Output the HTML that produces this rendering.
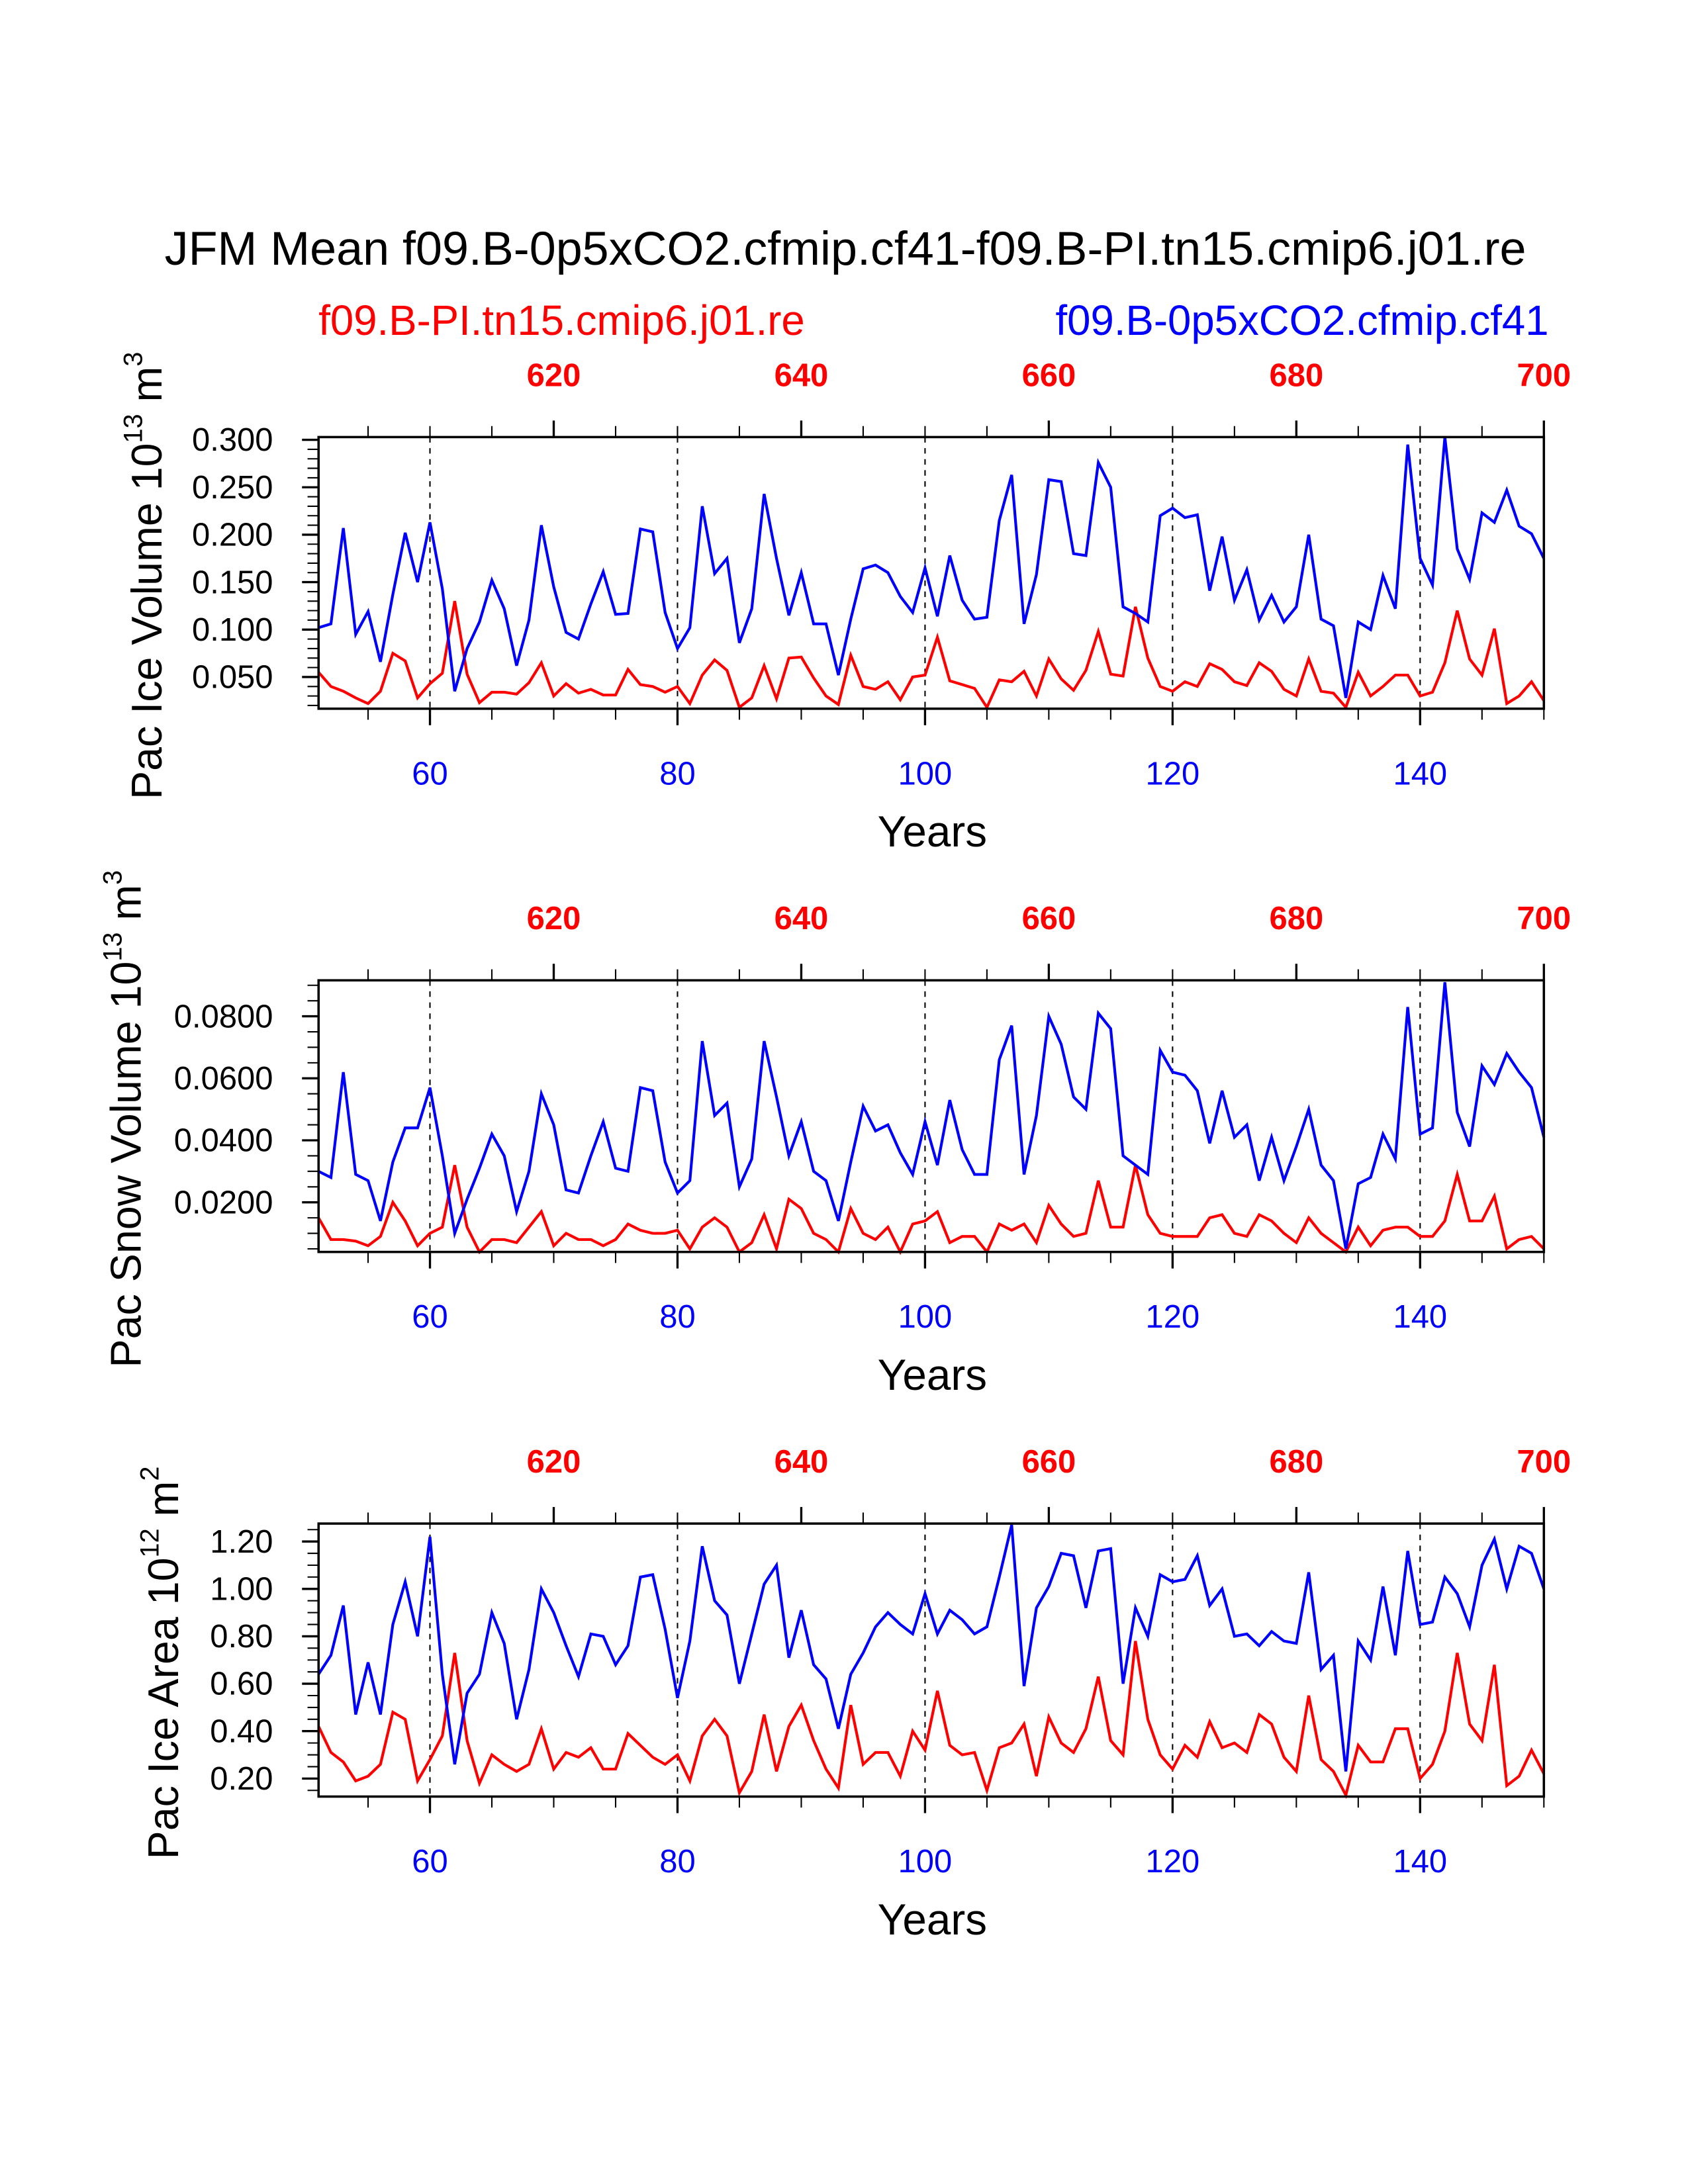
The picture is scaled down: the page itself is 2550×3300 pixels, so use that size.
<!DOCTYPE html>
<html><head><meta charset="utf-8"><style>html,body{margin:0;padding:0;background:#fff}svg{display:block}</style></head>
<body>
<svg id="fig" xmlns="http://www.w3.org/2000/svg" width="2550" height="3300" viewBox="0 0 1224 1584" font-family="'Liberation Sans', Arial, sans-serif">
<rect width="1224" height="1584" fill="#fff"/>
<text x="613" y="192" font-size="34.5" text-anchor="middle">JFM Mean f09.B-0p5xCO2.cfmip.cf41-f09.B-PI.tn15.cmip6.j01.re</text>
<text x="231" y="243" font-size="30.5" fill="#f00">f09.B-PI.tn15.cmip6.j01.re</text>
<text x="1123" y="243" font-size="30.5" fill="#00f" text-anchor="end">f09.B-0p5xCO2.cfmip.cf41</text>
<g id="plots"></g>
</svg>
<script>
const years = Array.from({length:100},(_,i)=>51+i);
const iceVolBlue=[0.102,0.106,0.207,0.095,0.119,0.066,0.137,0.202,0.150,0.213,0.143,0.035,0.080,0.108,0.152,0.122,0.062,0.110,0.210,0.145,0.097,0.090,0.127,0.161,0.116,0.117,0.206,0.203,0.118,0.080,0.102,0.230,0.159,0.175,0.086,0.122,0.243,0.175,0.115,0.160,0.106,0.106,0.052,0.111,0.164,0.168,0.160,0.135,0.118,0.165,0.114,0.178,0.131,0.111,0.113,0.215,0.263,0.106,0.158,0.258,0.256,0.180,0.178,0.276,0.250,0.124,0.117,0.108,0.220,0.228,0.218,0.221,0.141,0.198,0.131,0.163,0.110,0.136,0.108,0.124,0.200,0.111,0.104,0.028,0.108,0.100,0.157,0.122,0.295,0.175,0.147,0.303,0.185,0.153,0.223,0.213,0.247,0.209,0.201,0.175];
const iceVolRed=[0.055,0.040,0.035,0.028,0.022,0.035,0.075,0.067,0.028,0.043,0.054,0.130,0.053,0.023,0.034,0.034,0.032,0.044,0.065,0.030,0.043,0.033,0.037,0.031,0.031,0.058,0.042,0.040,0.034,0.040,0.022,0.052,0.068,0.057,0.018,0.028,0.062,0.027,0.070,0.071,0.049,0.030,0.021,0.073,0.040,0.037,0.045,0.026,0.050,0.052,0.092,0.046,0.042,0.038,0.018,0.047,0.045,0.056,0.030,0.069,0.048,0.036,0.057,0.098,0.053,0.051,0.124,0.070,0.040,0.035,0.045,0.040,0.064,0.058,0.045,0.041,0.065,0.056,0.037,0.030,0.069,0.035,0.033,0.018,0.055,0.030,0.040,0.052,0.052,0.030,0.034,0.065,0.120,0.069,0.052,0.101,0.022,0.030,0.045,0.025];
const snowBlue=[0.030,0.028,0.062,0.029,0.027,0.014,0.033,0.044,0.044,0.057,0.035,0.010,0.021,0.031,0.042,0.035,0.017,0.030,0.055,0.045,0.024,0.023,0.035,0.046,0.031,0.030,0.057,0.056,0.033,0.023,0.027,0.072,0.048,0.052,0.025,0.034,0.072,0.054,0.035,0.046,0.030,0.027,0.014,0.033,0.051,0.043,0.045,0.036,0.029,0.046,0.032,0.053,0.037,0.029,0.029,0.066,0.077,0.029,0.048,0.080,0.071,0.054,0.050,0.081,0.076,0.035,0.032,0.029,0.069,0.062,0.061,0.056,0.039,0.056,0.041,0.045,0.027,0.041,0.027,0.038,0.050,0.032,0.027,0.005,0.026,0.028,0.042,0.034,0.083,0.042,0.044,0.091,0.049,0.038,0.064,0.058,0.068,0.062,0.057,0.041];
const snowRed=[0.015,0.008,0.008,0.0075,0.006,0.009,0.020,0.014,0.006,0.010,0.012,0.032,0.012,0.004,0.008,0.008,0.007,0.012,0.017,0.006,0.010,0.008,0.008,0.006,0.008,0.013,0.011,0.010,0.010,0.011,0.005,0.012,0.015,0.012,0.004,0.007,0.016,0.005,0.021,0.018,0.010,0.008,0.004,0.018,0.010,0.008,0.012,0.004,0.013,0.014,0.017,0.007,0.009,0.009,0.004,0.013,0.011,0.013,0.007,0.019,0.013,0.009,0.010,0.027,0.012,0.012,0.032,0.016,0.010,0.009,0.009,0.009,0.015,0.016,0.010,0.009,0.016,0.014,0.010,0.007,0.015,0.010,0.007,0.004,0.012,0.006,0.011,0.012,0.012,0.009,0.009,0.014,0.029,0.014,0.014,0.022,0.005,0.008,0.009,0.005];
const areaBlue=[0.64,0.72,0.93,0.47,0.69,0.47,0.85,1.03,0.80,1.22,0.64,0.26,0.56,0.64,0.90,0.77,0.45,0.66,1.00,0.90,0.76,0.63,0.81,0.80,0.68,0.76,1.05,1.06,0.83,0.54,0.78,1.18,0.95,0.89,0.60,0.81,1.02,1.10,0.71,0.91,0.68,0.62,0.41,0.64,0.73,0.84,0.90,0.85,0.81,0.98,0.81,0.91,0.87,0.81,0.84,1.05,1.27,0.59,0.92,1.01,1.15,1.14,0.92,1.16,1.17,0.60,0.92,0.80,1.06,1.03,1.04,1.14,0.93,1.00,0.80,0.81,0.76,0.82,0.78,0.77,1.07,0.66,0.72,0.23,0.78,0.70,1.01,0.72,1.16,0.85,0.86,1.05,0.98,0.84,1.10,1.21,1.00,1.18,1.15,1.00];
const areaRed=[0.42,0.31,0.27,0.19,0.21,0.26,0.48,0.45,0.19,0.28,0.38,0.73,0.36,0.18,0.30,0.26,0.23,0.26,0.41,0.24,0.31,0.29,0.33,0.24,0.24,0.39,0.34,0.29,0.26,0.30,0.19,0.38,0.45,0.38,0.14,0.23,0.47,0.23,0.42,0.51,0.36,0.24,0.16,0.51,0.26,0.31,0.31,0.21,0.40,0.32,0.57,0.34,0.30,0.31,0.15,0.33,0.35,0.43,0.21,0.46,0.35,0.31,0.41,0.63,0.36,0.30,0.78,0.45,0.30,0.24,0.34,0.29,0.44,0.33,0.35,0.31,0.47,0.43,0.29,0.23,0.55,0.28,0.23,0.13,0.34,0.27,0.27,0.41,0.41,0.20,0.26,0.40,0.73,0.43,0.36,0.68,0.17,0.21,0.32,0.22];
const bottomTicks=[60,80,100,120,140];
const topTickLabels=[620,640,660,680,700];
const iceVolTicks=["0.050","0.100","0.150","0.200","0.250","0.300"];
const snowTicks=["0.0200","0.0400","0.0600","0.0800"];
const areaTicks=["0.20","0.40","0.60","0.80","1.00","1.20"];

const NS="http://www.w3.org/2000/svg";
const root=document.getElementById('plots');
function mk(tag,attrs,parent,text){const e=document.createElementNS(NS,tag);for(const k in attrs)e.setAttribute(k,attrs[k]);if(text!==undefined)e.textContent=text;(parent||root).appendChild(e);return e;}
const X0=231,X1=1119.5,YR0=51,YR1=150;
function xs(y){return X0+(y-YR0)*(X1-X0)/(YR1-YR0);}

const panels=[
 {name:'ice-volume',top:317,bot:514,ymin:0.0166,ymax:0.3029,ticks:iceVolTicks,minor:0.01,blue:iceVolBlue,red:iceVolRed,title:'Pac Ice Volume 10',sup:'13',unit:' m',usup:'3',tx:117},
 {name:'snow-volume',top:711,bot:908,ymin:0.004,ymax:0.0916,ticks:snowTicks,minor:0.005,blue:snowBlue,red:snowRed,title:'Pac Snow Volume 10',sup:'13',unit:' m',usup:'3',tx:102},
 {name:'ice-area',top:1105,bot:1303,ymin:0.124,ymax:1.2756,ticks:areaTicks,minor:0.05,blue:areaBlue,red:areaRed,title:'Pac Ice Area 10',sup:'12',unit:' m',usup:'2',tx:129}
];
panels.forEach(p=>{
 const g=mk('g',{});
 
 
 const ys=v=>p.bot-(v-p.ymin)*(p.bot-p.top)/(p.ymax-p.ymin);
 bottomTicks.forEach(t=>{const l=mk('line',{x1:xs(t),x2:xs(t),y1:p.top,y2:p.bot,stroke:'#000','stroke-width':1,'stroke-dasharray':'4,4'},g);
  
  });
 [['red',p.red,'#f00'],['blue',p.blue,'#00f']].forEach(([nm,arr,c])=>{
  const pts=arr.map((v,i)=>xs(years[i]).toFixed(2)+','+ys(v).toFixed(2)).join(' ');
  const pl=mk('polyline',{points:pts,fill:'none',stroke:c,'stroke-width':2,'stroke-linejoin':'miter'},g);
  
  
 });
 const fr=mk('rect',{x:X0,y:p.top,width:X1-X0,height:p.bot-p.top,fill:'none',stroke:'#000','stroke-width':1.7},g);
 
 
 const majors=p.ticks.map(Number);
 for(let v=Math.ceil(p.ymin/p.minor)*p.minor;v<=p.ymax+1e-9;v+=p.minor){
  const isMaj=majors.some(m=>Math.abs(m-v)<1e-7);
  if(!isMaj) mk('line',{x1:X0-8,x2:X0,y1:ys(v),y2:ys(v),stroke:'#000','stroke-width':1},g);
 }
 p.ticks.forEach(t=>{const v=Number(t);
  mk('line',{x1:X0-12,x2:X0,y1:ys(v),y2:ys(v),stroke:'#000','stroke-width':1.6},g);
  const tl=mk('text',{x:X0-33,y:ys(v)+8,'font-size':23.5,'text-anchor':'end'},g,t);
  
  
 });
 for(let y=55;y<=150;y+=5){
  const maj=(y%20===0);
  mk('line',{x1:xs(y),x2:xs(y),y1:p.bot,y2:p.bot+(maj?12:8),stroke:'#000','stroke-width':maj?1.6:1},g);
  const majTop=((y+550)%20===0);
  mk('line',{x1:xs(y),x2:xs(y),y1:p.top,y2:p.top-(majTop?12:8),stroke:'#000','stroke-width':majTop?1.6:1},g);
 }
 bottomTicks.forEach(t=>{const tl=mk('text',{x:xs(t),y:p.bot+55,'font-size':23.5,'text-anchor':'middle',fill:'#00f'},g,String(t));
  
  });
 topTickLabels.forEach(t=>{const tl=mk('text',{x:xs(t-550),y:p.top-37,'font-size':23.5,'font-weight':'bold','text-anchor':'middle',fill:'#f00'},g,String(t));
  
  });
 const xt=mk('text',{x:676,y:p.bot+100,'font-size':31.5,'text-anchor':'middle'},g,'Years');
 
 
 const cy=(p.top+p.bot)/2 + 2;
 const yt=mk('text',{x:0,y:0,'font-size':31,'text-anchor':'middle',transform:`translate(${p.tx},${cy}) rotate(-90)`},g);
 
 
 mk('tspan',{},yt,p.title);
 mk('tspan',{'font-size':19,dy:-14},yt,p.sup);
 mk('tspan',{dy:14},yt,p.unit);
 mk('tspan',{'font-size':19,dy:-14},yt,p.usup);
});
</script>
</body></html>
